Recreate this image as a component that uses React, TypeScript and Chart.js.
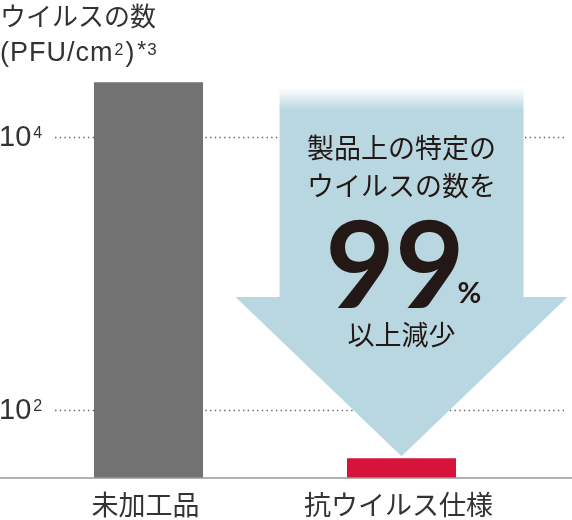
import { useEffect, useRef } from 'react';
import { Chart, registerables } from 'chart.js';

Chart.register(...registerables);

// values (log scale, PFU/cm2)
const categories = ['未加工品', '抗ウイルス仕様'];
const virusCounts = [25000, 44];
const barColors = ['#727272', '#d6133a'];
const tickValues = [100, 10000];
const tickExponents = ['2', '4'];
const axisMin = 31.6;
const axisMax = 100000;

const titleLine = 'ウイルスの数';
const unitLine = ['(PFU/cm', '2', ')', '*', '3'];
const calloutLines = ['製品上の特定の', 'ウイルスの数を'];
const calloutNumber = '99';
const calloutUnit = '%';
const calloutTail = '以上減少';

const JP = '"Noto Sans CJK JP", sans-serif';
const LATIN = '"Liberation Sans", Arial, sans-serif';
const TEXT = '#333333';
const DARK = '#231815';
const ARROW = [185, 215, 225];

const decorations = {
  id: 'decorations',
  beforeDatasetsDraw(chart: any) {
    const { ctx, scales } = chart;
    const y = scales.y;
    ctx.save();
    // dotted grid + tick labels 10^n
    tickValues.forEach((v, i) => {
      const py = Math.round(y.getPixelForValue(v)) + 0.5;
      ctx.strokeStyle = '#666666';
      ctx.lineWidth = 1.3;
      ctx.setLineDash([1.4, 3.3]);
      ctx.beginPath();
      ctx.moveTo(55, py);
      ctx.lineTo(567, py);
      ctx.stroke();
      ctx.setLineDash([]);

      ctx.fillStyle = TEXT;
      ctx.textAlign = 'left';
      ctx.textBaseline = 'alphabetic';
      ctx.font = `29px ${LATIN}`;
      ctx.fillText('10', -1, py + 8);
      const w = ctx.measureText('10').width;
      ctx.font = `16px ${LATIN}`;
      ctx.fillText(tickExponents[i], w + 1, py + 0.5);
    });
    ctx.restore();
  },
  afterDatasetsDraw(chart: any) {
    const { ctx, scales, chartArea, width } = chart;
    const x = scales.x;
    const y = scales.y;
    ctx.save();

    // baseline
    ctx.strokeStyle = '#999999';
    ctx.lineWidth = 1.6;
    ctx.beginPath();
    ctx.moveTo(0, chartArea.bottom);
    ctx.lineTo(width, chartArea.bottom);
    ctx.stroke();

    // category labels
    ctx.fillStyle = TEXT;
    ctx.textAlign = 'center';
    ctx.textBaseline = 'middle';
    ctx.font = `27px ${JP}`;
    categories.forEach((c, i) => {
      ctx.fillText(c, x.getPixelForValue(i) - 3, chartArea.bottom + 27);
    });

    // arrow over second category
    const cx = x.getPixelForValue(1);
    const tipY = y.getPixelForValue(virusCounts[1]) - 2;
    const shaftTop = 88;
    const headY = 297;
    const shaftHalf = 122;
    const headHalf = 166;
    const grad = ctx.createLinearGradient(0, shaftTop, 0, shaftTop + 22);
    grad.addColorStop(0, `rgba(${ARROW.join(',')},0)`);
    grad.addColorStop(1, `rgb(${ARROW.join(',')})`);
    ctx.fillStyle = grad;
    ctx.beginPath();
    ctx.moveTo(cx - shaftHalf, shaftTop);
    ctx.lineTo(cx + shaftHalf, shaftTop);
    ctx.lineTo(cx + shaftHalf, headY);
    ctx.lineTo(cx + headHalf, headY);
    ctx.lineTo(cx, tipY);
    ctx.lineTo(cx - headHalf, headY);
    ctx.lineTo(cx - shaftHalf, headY);
    ctx.closePath();
    ctx.fill();

    // callout text
    ctx.fillStyle = DARK;
    ctx.textAlign = 'center';
    ctx.textBaseline = 'middle';
    ctx.font = `27px ${JP}`;
    ctx.fillText(calloutLines[0], cx, 148);
    ctx.fillText(calloutLines[1], cx, 186);
    ctx.fillText(calloutTail, cx, 335);

    ctx.textBaseline = 'alphabetic';
    ctx.font = `bold 120px Lato, ${LATIN}`;
    ctx.textAlign = 'right';
    ctx.fillText(calloutNumber, cx + 63, 308);
    ctx.textAlign = 'left';
    ctx.font = `bold 29px Lato, ${LATIN}`;
    ctx.fillText(calloutUnit, cx + 56, 303);

    // title
    ctx.fillStyle = TEXT;
    ctx.textAlign = 'left';
    ctx.textBaseline = 'middle';
    ctx.font = `26px ${JP}`;
    ctx.fillText(titleLine, 0, 16);

    ctx.textBaseline = 'alphabetic';
    const parts = [
      { t: unitLine[0], size: 27, base: 61, gap: 1 },
      { t: unitLine[1], size: 16, base: 55, gap: 2 },
      { t: unitLine[2], size: 27, base: 61, gap: 3 },
      { t: unitLine[3], size: 23, base: 58, gap: 1 },
      { t: unitLine[4], size: 17, base: 55, gap: 0 },
    ];
    let px = 0;
    parts.forEach((p, i) => {
      ctx.font = `${p.size}px ${LATIN}`;
      ctx.letterSpacing = i === 0 ? '1px' : '0px';
      ctx.fillText(p.t, px, p.base);
      px += ctx.measureText(p.t).width + p.gap;
    });
    ctx.letterSpacing = '0px';

    ctx.restore();
  },
};

function VirusChart() {
  const chartRef = useRef<HTMLCanvasElement>(null);
  const chartInstance = useRef<Chart | null>(null);

  useEffect(() => {
    if (!chartRef.current) return;
    if (chartInstance.current) chartInstance.current.destroy();
    const ctx = chartRef.current.getContext('2d');
    if (!ctx) return;

    chartInstance.current = new Chart(ctx, {
      type: 'bar',
      data: {
        labels: categories,
        datasets: [
          {
            data: virusCounts,
            backgroundColor: barColors,
            borderWidth: 0,
            categoryPercentage: 1,
            barPercentage: 0.431,
          },
        ],
      },
      options: {
        responsive: false,
        animation: false,
        layout: { padding: { left: 22, right: 44, top: 0, bottom: 42 } },
        plugins: {
          legend: { display: false },
          tooltip: { enabled: false },
        },
        scales: {
          x: {
            display: false,
          },
          y: {
            type: 'logarithmic',
            display: false,
            bounds: 'data',
            min: axisMin,
            max: axisMax,
          },
        },
      },
      plugins: [decorations],
    });

    return () => {
      if (chartInstance.current) {
        chartInstance.current.destroy();
        chartInstance.current = null;
      }
    };
  }, []);

  return (
    <div style={{ position: 'absolute', left: 0, top: 0, width: 572, height: 520, background: '#fff' }}>
      <canvas ref={chartRef} width={572} height={520} style={{ width: 572, height: 520 }}></canvas>
    </div>
  );
}

export default function App() {
  return <VirusChart />;
}
